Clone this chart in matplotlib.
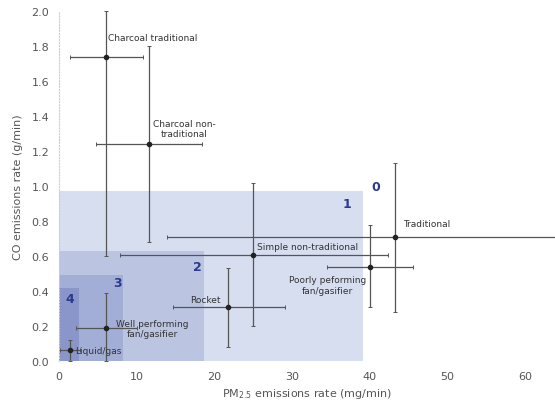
import matplotlib
matplotlib.use("Agg")
import matplotlib.pyplot as plt
from matplotlib.patches import Rectangle

# Data
stoves = ["Charcoal traditional", "Charcoal non-\ntraditional", "Traditional",
          "Simple non-traditional", "Poorly peforming\nfan/gasifier", "Rocket",
          "Well performing\nfan/gasifier", "Liquid/gas"]
pm = [6.1, 11.6, 43.2, 25.0, 40.0, 21.7, 6.1, 1.5]
pm_lo = [1.4, 4.8, 13.9, 7.9, 34.5, 14.7, 2.2, 0.1]
pm_hi = [10.8, 18.4, 65.0, 42.3, 45.5, 29.1, 10.0, 2.7]
co = [1.74, 1.24, 0.71, 0.605, 0.54, 0.31, 0.19, 0.063]
co_lo = [0.60, 0.68, 0.28, 0.20, 0.31, 0.08, 0.0, 0.0]
co_hi = [2.0, 1.80, 1.13, 1.02, 0.78, 0.53, 0.39, 0.12]

tiers = ["1", "2", "3", "4"]
tier_pm = [39.1, 18.7, 8.2, 2.6]
tier_co = [0.97, 0.63, 0.49, 0.42]
tier_colors = ["#d7def0", "#bbc5e2", "#a3aed7", "#8a95ca"]

fig = plt.figure(figsize=(5.55, 4.06), dpi=100)
ax = fig.add_axes([0.106, 0.108, 0.894, 0.862])

for w, h, c in zip(tier_pm, tier_co, tier_colors):
    ax.add_patch(Rectangle((0, 0), w, h, facecolor=c, edgecolor="none", zorder=1))

# tier number labels
tier_label_text = ["0", "1", "2", "3", "4"]
tier_label_x = [40.8, 37.0, 17.8, 7.5, 1.4]
tier_label_y = [1.0, 0.90, 0.54, 0.45, 0.36]
for t, x, y in zip(tier_label_text, tier_label_x, tier_label_y):
    ax.text(x, y, t, color="#2b3a8c", fontsize=9, fontweight="bold",
            ha="center", va="center", zorder=4)

xerr = [[p - l for p, l in zip(pm, pm_lo)], [h - p for p, h in zip(pm, pm_hi)]]
yerr = [[c - l for c, l in zip(co, co_lo)], [h - c for c, h in zip(co, co_hi)]]
ax.errorbar(pm, co, xerr=xerr, yerr=yerr, fmt="o", color="#222222", ms=3,
            ecolor="#555555", elinewidth=0.9, capsize=1.2, capthick=0.7, zorder=3,
            clip_on=True)

label_pos = [(6.3, 1.85, "left"), (12.1, 1.33, "left"), (44.3, 0.785, "left"),
             (25.5, 0.655, "left"), (34.5, 0.435, "center"), (16.9, 0.355, "left"),
             (12.0, 0.185, "center"), (2.1, 0.063, "left")]
for name, (x, y, ha) in zip(stoves, label_pos):
    ax.text(x, y, name, fontsize=6.5, color="#333333", ha=ha, va="center",
            multialignment="center", zorder=4)

ax.set_xlim(0, 63.8)
ax.set_ylim(0, 2.0)
ax.set_xticks(range(0, 61, 10))
ax.set_yticks([i / 10 for i in range(0, 21, 2)])
ax.set_yticklabels([f"{i / 10:.1f}" for i in range(0, 21, 2)])
ax.tick_params(length=0, labelsize=8, labelcolor="#555555", pad=7)
for s in ["top", "right", "bottom"]:
    ax.spines[s].set_visible(False)
ax.spines["left"].set_color("#cccccc")
ax.spines["left"].set_linestyle(":")
ax.spines["left"].set_linewidth(0.8)

ax.set_xlabel("PM$_{2.5}$ emissions rate (mg/min)", fontsize=8, color="#555555", labelpad=4)
ax.set_ylabel("CO emissions rate (g/min)", fontsize=8, color="#555555", labelpad=6)

fig.savefig("out.png", dpi=100)
